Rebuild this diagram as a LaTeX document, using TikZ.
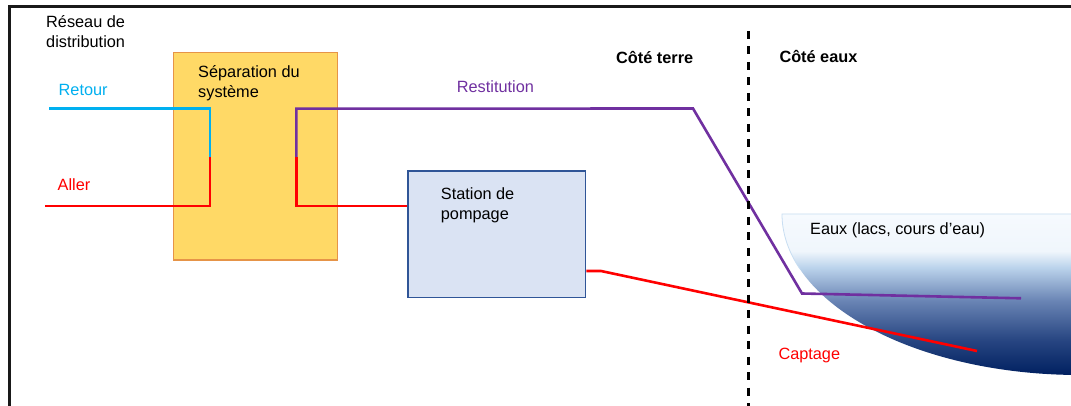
\documentclass[tikz,border=0pt]{standalone}
\usepackage{fontspec}
\setmainfont{Liberation Sans}
\definecolor{sepfill}{RGB}{255,217,102}
\definecolor{sepedge}{RGB}{230,148,72}
\definecolor{pumpfill}{RGB}{218,227,243}
\definecolor{pumpedge}{RGB}{47,85,151}
\definecolor{retcol}{RGB}{0,176,240}
\definecolor{hotcol}{RGB}{255,0,0}
\definecolor{restcol}{RGB}{112,48,160}
\definecolor{w0}{RGB}{0,32,96}
\definecolor{w1}{RGB}{40,70,130}
\definecolor{w2}{RGB}{105,132,180}
\definecolor{w3}{RGB}{188,212,236}
\definecolor{w4}{RGB}{240,246,252}
\definecolor{w5}{RGB}{246,250,254}
\definecolor{wedge}{RGB}{200,222,242}
% vertical water shading: 25bp = bottom of the path, 75bp = top
\pgfdeclareverticalshading{water}{100bp}{%
  color(0bp)=(w0); color(25bp)=(w0); color(36bp)=(w1); color(48bp)=(w2);
  color(58.5bp)=(w3); color(63.5bp)=(w4); color(75bp)=(w5); color(100bp)=(w5)}
\tikzset{
  lbl/.style={anchor=base west, inner sep=0pt, font=\fontsize{16.3}{20}\selectfont, align=left},
  boldlbl/.style={lbl, font=\fontsize{16.3}{20}\selectfont\bfseries},
  sepbox/.style={draw=sepedge, fill=sepfill, line width=1.3pt, inner sep=0pt},
  pumpbox/.style={draw=pumpedge, fill=pumpfill, line width=1.3pt, inner sep=0pt},
  pipe/.style={line width=2.6pt},
  retpipe/.style={pipe, retcol},
  hotpipe/.style={pipe, hotcol},
  restpipe/.style={pipe, restcol},
  border/.style={line width=2.2pt, black!90},
  divider/.style={line width=2.4pt, black, dash pattern=on 8pt off 7.5pt}
}
\begin{document}
\begin{tikzpicture}[x=1pt, y=-1pt]
\useasboundingbox (0,0) rectangle (1071,406);
\fill[white] (0,0) rectangle (1071,406);

% outer frame
\draw[border] (9.5,412) -- (9.5,6.5) -- (1075,6.5);

% lake
\shade[shading=water] (782,214) arc[start angle=180, end angle=90, x radius=298, y radius=161]
  -- (1080,214) -- cycle;
\draw[wedge, line width=0.8pt] (1080,214) -- (782,214) arc[start angle=180, end angle=160, x radius=298, y radius=161];

% boxes
\node[sepbox, minimum width=164pt, minimum height=207.7pt] (sep) at (255.3,156.2) {};
\node[pumpbox, minimum width=177.7pt, minimum height=126.7pt] (pump) at (496.9,234.4) {};

% pipe corner points
\coordinate (retIn) at (49.3,108.7);
\coordinate (retTurn) at (210,108.7);
\coordinate (sepL) at (210,157);
\coordinate (allerTurn) at (210,206);
\coordinate (allerIn) at (45,206);
\coordinate (restTurn) at (296.3,108.7);
\coordinate (sepR) at (296.3,157);
\coordinate (pumpTurn) at (296.3,206);
\coordinate (restKnee) at (693,108.5);
\coordinate (restBed) at (802,293.5);
\coordinate (restOut) at (1021,298.3);
\coordinate (capKnee) at (601,271);
\coordinate (capEnd) at (977,351);

% distribution side
\draw[retpipe, line join=miter] (retIn) -- (retTurn) -- (sepL);
\draw[hotpipe, line join=miter] (sepL) -- (allerTurn) -- (allerIn);

% restitution and supply to the pumping station
\draw[restpipe, line join=miter] (sepR) -- (restTurn) -- (restKnee) -- (restBed) -- (restOut);
\draw[hotpipe, line join=miter] (sepR) -- (pumpTurn) -- (pumpTurn -| pump.west);

% intake
\draw[hotpipe, line join=miter] (pump.east |- capKnee) -- (capKnee) -- (capEnd);

% land / water divider
\coordinate (divTop) at (748.5,31);
\coordinate (divBot) at (748.5,406);
\draw[divider] (divTop) -- (divBot);

% labels (multi-line ones are placed by the baseline of their last line)
\node[lbl] (reseau) at (46,47.7) {Réseau de\\[0.6pt]distribution};
\node[lbl, text=retcol] (retour) at (58.5,96) {Retour};
\node[lbl, text=hotcol] (aller) at (57.5,191) {Aller};
\node[lbl] (seplbl) at (198,97.7) {Séparation du\\[-0.2pt]système};
\node[lbl, text=restcol] (restlbl) at (456.7,92.3) {Restitution};
\node[lbl] (pumplbl) at (440.7,219.3) {Station de\\[-0.6pt]pompage};
\node[boldlbl] (terre) at (616,63.3) {Côté terre};
\node[boldlbl] (eaux) at (779.3,62.3) {Côté eaux};
\node[lbl] (lake) at (810,234.3) {Eaux (lacs, cours d’eau)};
\node[lbl, text=hotcol] (captage) at (778.3,359) {Captage};
\end{tikzpicture}
\end{document}
